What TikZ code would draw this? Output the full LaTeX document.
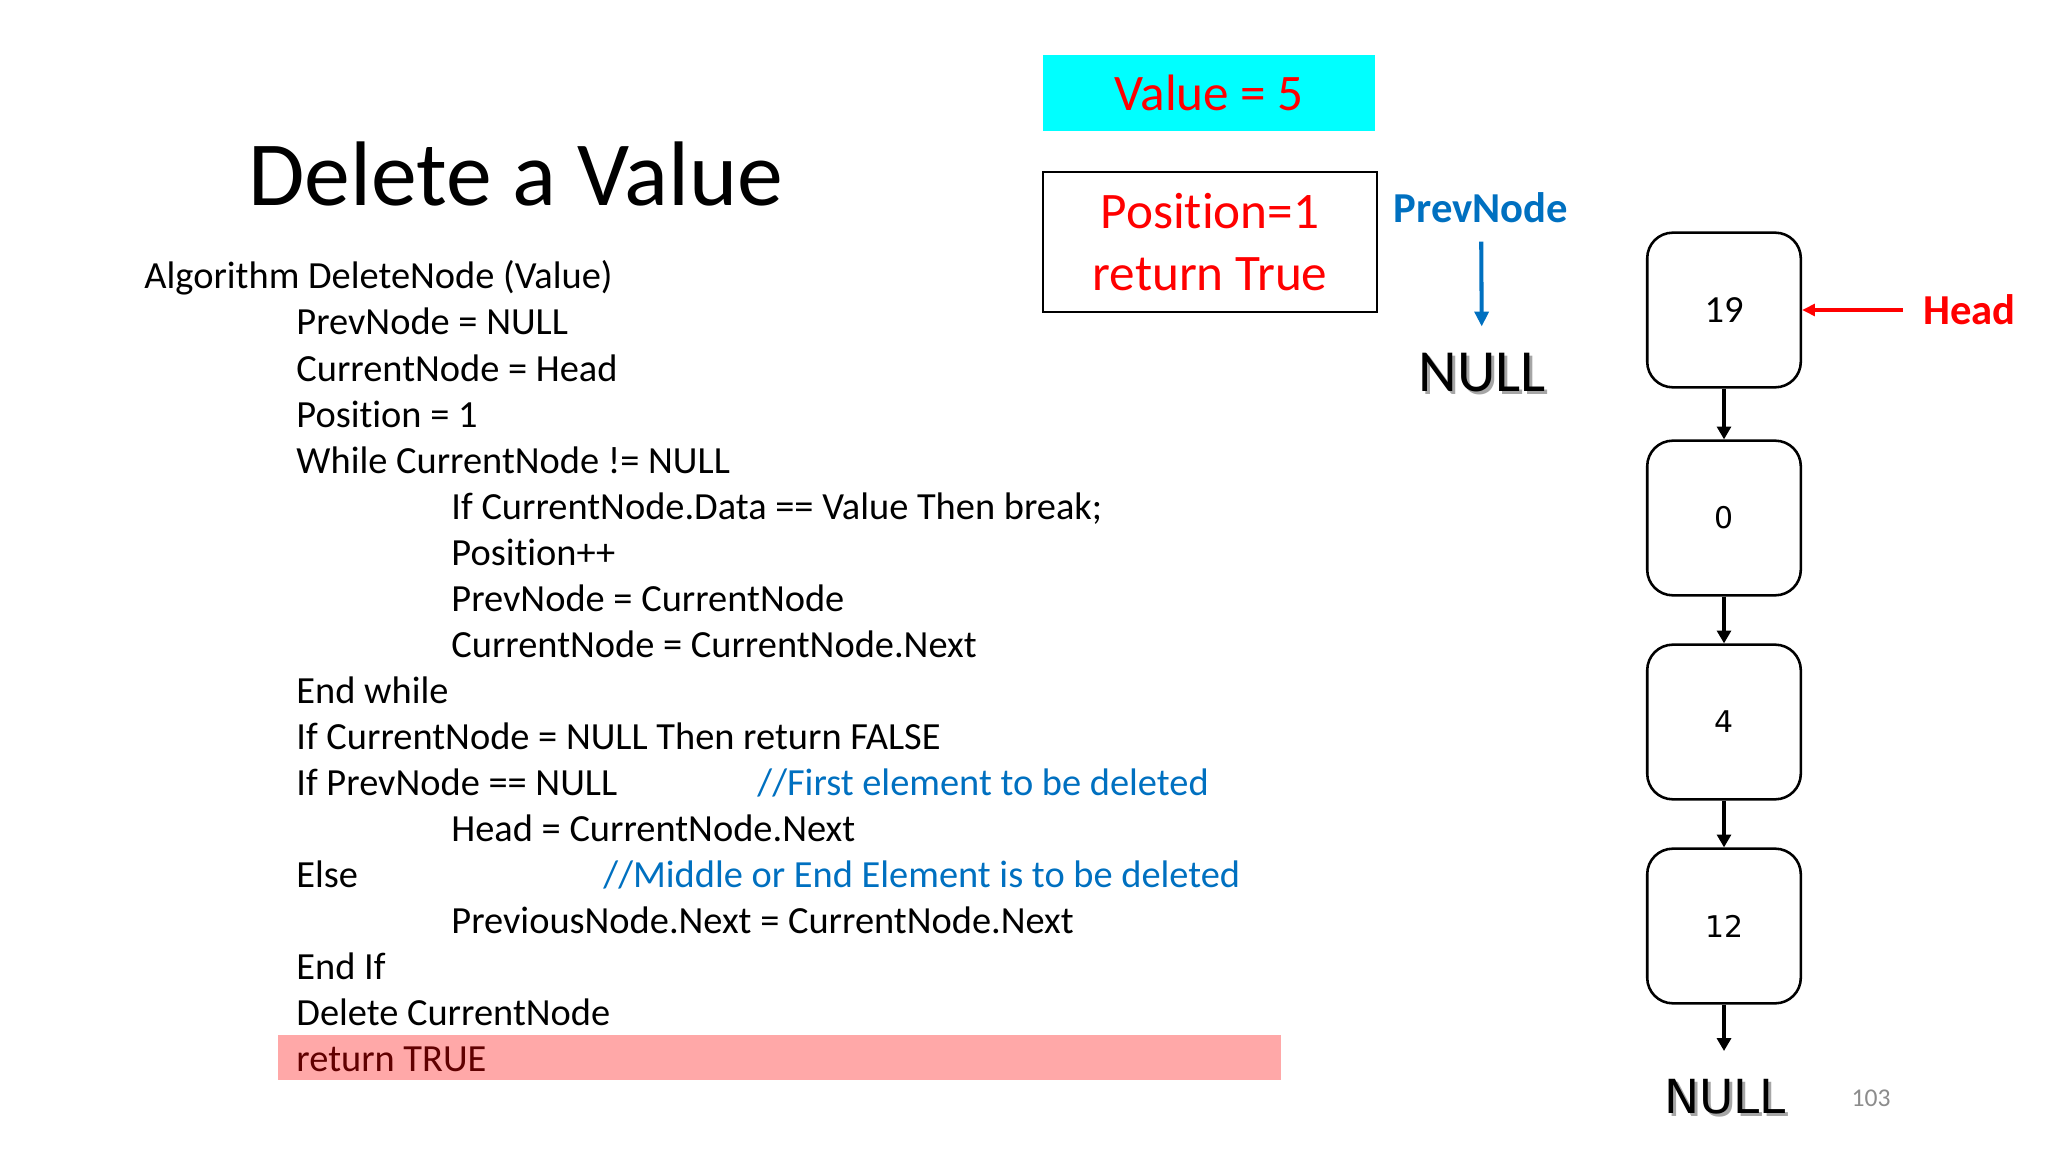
\documentclass[tikz,border=0pt]{standalone}
\usepackage{fontspec}
\setmainfont{Carlito}[Ligatures=NoCommon]
\newfontfamily\vfont{DejaVu Sans}
\usetikzlibrary{arrows.meta}

\definecolor{cmtblue}{HTML}{0070C0}
\definecolor{hlpink}{HTML}{FFA8A8}
\definecolor{darkred}{HTML}{600000}
\definecolor{boxcyan}{HTML}{00FFFF}

\tikzset{
	codeline/.style={anchor=base west, inner sep=0, font=\fontsize{18}{21.6}\selectfont},
	listbox/.style={draw, line width=1.2pt, rounded corners=12pt, minimum width=72pt, minimum height=72.5pt, inner sep=0},
	nextarrow/.style={-{Triangle[length=6pt, width=6.5pt]}, line width=2.3pt},
	nulltext/.style={inner sep=0, font=\fontsize{28}{30}\selectfont}
}

\begin{document}
\begin{tikzpicture}[x=0.46875pt, y=-0.46875pt]
	\useasboundingbox (0, 0) rectangle (2048, 1152);

	% title
	\node[anchor=base west, inner sep=0, font=\fontsize{43}{50}\selectfont] (title) at (248, 206) {Delete a Value};

	% algorithm
	\fill[hlpink] (278, 1035) rectangle (1281, 1080);
	\foreach \i/\x/\txt in {0/144/Algorithm DeleteNode (Value),
			1/296/PrevNode = NULL,
			2/296/CurrentNode = Head,
			3/296/Position = 1,
			4/296/While CurrentNode != NULL,
			5/451/If CurrentNode.Data == Value Then break;,
			6/451/Position++,
			7/451/PrevNode = CurrentNode,
			8/451/CurrentNode = CurrentNode.Next,
			9/296/End while,
			10/296/If CurrentNode = NULL Then return FALSE,
			11/296/If PrevNode == NULL,
			12/451/Head = CurrentNode.Next,
			13/296/Else,
			14/451/PreviousNode.Next = CurrentNode.Next,
			15/296/End If,
			16/296/Delete CurrentNode}
		\node[codeline] (l\i) at (\x, {289+46*\i}) {\txt};
	\node[codeline, text=darkred] (l17) at (296, 1071) {return TRUE};
	\node[codeline, text=cmtblue] (c1) at (757, 795) {//First element to be deleted};
	\node[codeline, text=cmtblue] (c2) at (603, 887) {//Middle or End Element is to be deleted};

	% state boxes
	\node[fill=boxcyan, minimum width=155.6pt, minimum height=35.6pt, inner sep=0, text=red, font=\fontsize{24}{28.8}\selectfont] (value) at (1209, 93) {Value = 5};
	\node[draw, line width=1pt, minimum width=156.6pt, minimum height=66pt, inner sep=0, align=center, text=red, font=\fontsize{24}{28.8}\selectfont] (pos) at (1210, 242) {Position=1\\return True};

	% prev pointer
	\node[inner sep=0, text=cmtblue, font=\fontsize{20}{24}\bfseries] (prevlbl) at (1481, 208) {PrevNode};
	\node[nulltext, text=black!35] at (1485, 376) {NULL};
	\node[nulltext] (nulltop) at (1482, 373) {NULL};
	\draw[-{Triangle[length=7pt, width=6.5pt]}, cmtblue, line width=1.9pt, shorten <=8.5pt, shorten >=12.5pt] (prevlbl) -- (nulltop);

	% linked list
	\node[listbox, font=\fontsize{18}{20}\selectfont] (n19) at (1724, 310) {19};
	\node[listbox, font=\vfont\fontsize{14}{16}\selectfont] (n0) at (1724, 518) {0};
	\node[listbox, font=\vfont\fontsize{14}{16}\selectfont] (n4) at (1724, 722) {4};
	\node[listbox, font=\vfont\fontsize{14}{16}\selectfont] (n12) at (1724, 926) {12};
	\coordinate (endlist) at (1724, 1051);
	\draw[nextarrow] (n19) -- (n0);
	\draw[nextarrow] (n0) -- (n4);
	\draw[nextarrow] (n4) -- (n12);
	\draw[nextarrow] (n12) -- (endlist);
	\node[inner sep=0, text=black!35, font=\vfont\fontsize{22}{24}\selectfont] at (1728, 1100) {NULL};
	\node[inner sep=0, font=\vfont\fontsize{22}{24}\selectfont] (nullend) at (1725, 1097) {NULL};

	% head pointer
	\node[anchor=west, inner sep=0, text=red, font=\fontsize{20}{24}\bfseries] (head) at (1923, 310) {Head};
	\draw[-{Triangle[length=6pt, width=5.5pt]}, red, line width=1.5pt, shorten <=9.4pt] (head) -- (n19);

	\node[inner sep=0, text=black!45, font=\fontsize{12}{14}\selectfont] (page) at (1871, 1098) {103};
\end{tikzpicture}
\end{document}
